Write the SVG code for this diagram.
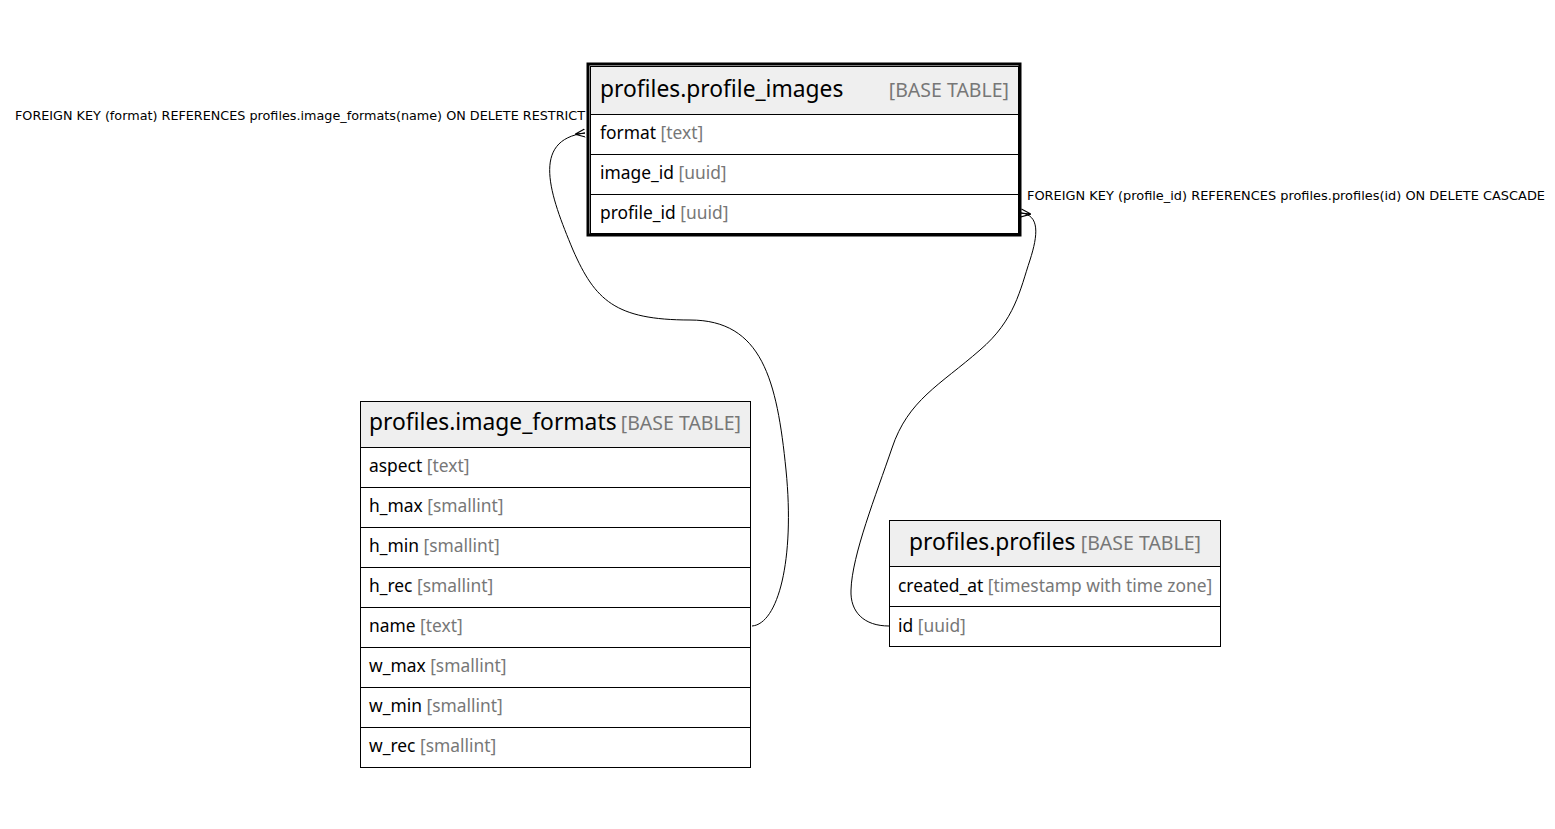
<svg xmlns="http://www.w3.org/2000/svg" width="1555" height="829" viewBox="0 0 1555 829">
<style>
.bg{fill:#ffffff}
.hdr{fill:#efefef}
.ln{stroke:#000;stroke-width:1;fill:none}
.title{font-family:"Noto Sans",sans-serif;font-size:22.8px;fill:#000}
.bt{font-family:"Noto Sans",sans-serif;font-size:19.5px;fill:#777}
.col{font-family:"Noto Sans",sans-serif;font-size:17.4px;fill:#000}
.typ{fill:#777}
.lbl{font-family:"DejaVu Sans",sans-serif;font-size:12.8px;fill:#000}
.edge{stroke:#000;stroke-width:1;fill:none}
</style>
<defs>
<marker id="crow" viewBox="0 0 10 10" refX="10" refY="5" markerWidth="10" markerHeight="10" markerUnits="userSpaceOnUse" orient="auto">
<path d="M0,5 L10,1 M0,5 L10,9 M0,5 L10,5" stroke="#000" stroke-width="1.2" fill="none"/>
</marker>
</defs>
<rect class="bg" x="0" y="0" width="1555" height="829"/>
<g id="connectors">
<path class="edge" d="M752,626 C778,624 795,560 786,470 C777,380 762,320 690,320 C615,320 595,300 573,250 C550,195 530,140 585,133" marker-end="url(#crow)"/>
<path class="edge" d="M889,626 C864,626 850,612 851,590 C852,555 876,495 892,448 C908,400 940,385 980,350 C1015,320 1020,290 1030,260 C1038,235 1040,215 1021,213" marker-end="url(#crow)"/>
<text class="lbl" x="15" y="120" textLength="570" lengthAdjust="spacingAndGlyphs">FOREIGN KEY (format) REFERENCES profiles.image_formats(name) ON DELETE RESTRICT</text>
<text class="lbl" x="1027" y="200" textLength="518" lengthAdjust="spacingAndGlyphs">FOREIGN KEY (profile_id) REFERENCES profiles.profiles(id) ON DELETE CASCADE</text>
</g>
<g id="profile_images">
<rect class="hdr" x="590" y="66" width="429" height="48"/>
<rect x="588" y="64" width="432" height="171" fill="none" stroke="#000" stroke-width="3"/>
<rect x="590.5" y="66.5" width="428" height="167" fill="none" stroke="#000" stroke-width="1"/>
<line class="ln" x1="590" y1="114.5" x2="1019" y2="114.5"/>
<line class="ln" x1="590" y1="154.5" x2="1019" y2="154.5"/>
<line class="ln" x1="590" y1="194.5" x2="1019" y2="194.5"/>
<text class="title" x="600" y="97">profiles.profile_images</text>
<text class="bt" x="1009" y="97" text-anchor="end">[BASE TABLE]</text>
<text class="col" x="600" y="139">format <tspan class="typ">[text]</tspan></text>
<text class="col" x="600" y="179">image_id <tspan class="typ">[uuid]</tspan></text>
<text class="col" x="600" y="219">profile_id <tspan class="typ">[uuid]</tspan></text>
</g>
<g id="image_formats">
<rect class="hdr" x="360.5" y="401.5" width="390" height="46"/>
<rect x="360.5" y="401.5" width="390" height="366" fill="none" stroke="#000" stroke-width="1"/>
<line class="ln" x1="360" y1="447.5" x2="751" y2="447.5"/>
<line class="ln" x1="360" y1="487.5" x2="751" y2="487.5"/>
<line class="ln" x1="360" y1="527.5" x2="751" y2="527.5"/>
<line class="ln" x1="360" y1="567.5" x2="751" y2="567.5"/>
<line class="ln" x1="360" y1="607.5" x2="751" y2="607.5"/>
<line class="ln" x1="360" y1="647.5" x2="751" y2="647.5"/>
<line class="ln" x1="360" y1="687.5" x2="751" y2="687.5"/>
<line class="ln" x1="360" y1="727.5" x2="751" y2="727.5"/>
<text class="title" x="369" y="430">profiles.image_formats</text>
<text class="bt" x="741" y="430" text-anchor="end">[BASE TABLE]</text>
<text class="col" x="369" y="472">aspect <tspan class="typ">[text]</tspan></text>
<text class="col" x="369" y="512">h_max <tspan class="typ">[smallint]</tspan></text>
<text class="col" x="369" y="552">h_min <tspan class="typ">[smallint]</tspan></text>
<text class="col" x="369" y="592">h_rec <tspan class="typ">[smallint]</tspan></text>
<text class="col" x="369" y="632">name <tspan class="typ">[text]</tspan></text>
<text class="col" x="369" y="672">w_max <tspan class="typ">[smallint]</tspan></text>
<text class="col" x="369" y="712">w_min <tspan class="typ">[smallint]</tspan></text>
<text class="col" x="369" y="752">w_rec <tspan class="typ">[smallint]</tspan></text>
</g>
<g id="profiles">
<rect class="hdr" x="889.5" y="520.5" width="331" height="46"/>
<rect x="889.5" y="520.5" width="331" height="126" fill="none" stroke="#000" stroke-width="1"/>
<line class="ln" x1="889" y1="566.5" x2="1221" y2="566.5"/>
<line class="ln" x1="889" y1="606.5" x2="1221" y2="606.5"/>
<text class="title" x="909" y="550">profiles.profiles</text>
<text class="bt" x="1201" y="550" text-anchor="end">[BASE TABLE]</text>
<text class="col" x="898" y="592">created_at <tspan class="typ">[timestamp with time zone]</tspan></text>
<text class="col" x="898" y="632">id <tspan class="typ">[uuid]</tspan></text>
</g>
</svg>
